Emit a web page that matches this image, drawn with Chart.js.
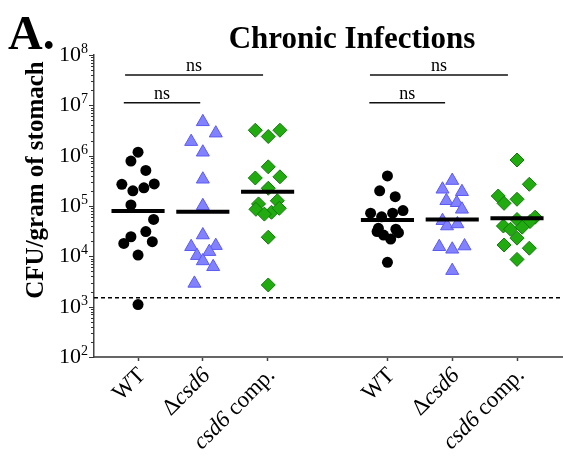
<!DOCTYPE html>
<html>
<head>
<meta charset="utf-8">
<script src="https://cdn.jsdelivr.net/npm/chart.js@4.4.0/dist/chart.umd.min.js"></script>
<style>
  html, body { margin: 0; padding: 0; background: #fff; }
  #wrap { width: 563px; height: 460px; }
</style>
</head>
<body>
<div id="wrap"><canvas id="chart" width="563" height="460"></canvas></div>
<script>
const categories = ['WT', 'Δcsd6', 'csd6 comp.', 'WT', 'Δcsd6', 'csd6 comp.'];
const positions = [1, 2, 3, 4.85, 5.85, 6.85];

const wt1Values = [1.17e6, 7.8e5, 5.1e5, 2.7e5, 2.75e5, 2.3e5, 2.0e5, 1.05e5, 5.4e4, 3.1e4, 2.45e4, 1.8e4, 1.95e4, 1.06e4, 1.1e3];
const wt1Jitter = [0, -0.11, 0.12, -0.25, 0.25, 0.09, -0.08, -0.11, 0.24, 0.12, -0.11, -0.22, 0.22, 0, 0];

const csd1Values = [4.7e6, 2.8e6, 1.9e6, 1.17e6, 3.4e5, 1.01e5, 2.65e4, 1.55e4, 1.63e4, 1.03e4, 1.24e4, 8.1e3, 6.2e3, 2.9e3];
const csd1Jitter = [0, 0.2, -0.18, 0, 0, 0, 0, -0.18, 0.2, -0.09, 0.1, 0, 0.16, -0.13];

const comp1Values = [3.2e6, 3.2e6, 2.4e6, 6.0e5, 3.6e5, 3.8e5, 2.25e5, 1.1e5, 1.27e5, 8.6e4, 7.5e4, 9.0e4, 6.9e4, 2.4e4, 2.7e3];
const comp1Jitter = [-0.19, 0.19, 0.01, 0.01, -0.19, 0.19, 0.01, -0.14, 0.15, -0.18, 0.06, 0.18, -0.05, 0.01, 0.01];

const wt2Values = [3.95e5, 2.0e5, 1.53e5, 7.2e4, 6.1e4, 7.2e4, 8.1e4, 3.6e4, 3.1e4, 2.65e4, 3.45e4, 2.95e4, 2.2e4, 7.6e3];
const wt2Jitter = [0, -0.12, 0.12, -0.26, -0.09, 0.08, 0.24, -0.14, -0.16, -0.06, 0.13, 0.17, 0.05, 0];

const csd2Values = [3.2e5, 2.15e5, 1.92e5, 1.27e5, 1.16e5, 8.6e4, 5.1e4, 4.0e4, 4.4e4, 1.55e4, 1.38e4, 1.6e4, 5.2e3];
const csd2Jitter = [0, -0.15, 0.15, -0.09, 0.07, 0.15, -0.15, -0.08, 0.08, -0.2, 0, 0.19, 0];

const comp2Values = [8.2e5, 2.7e5, 1.58e5, 1.13e5, 1.36e5, 6.0e4, 5.4e4, 4.9e4, 4.0e4, 3.45e4, 3.8e4, 2.3e4, 1.68e4, 1.45e4, 8.7e3];
const comp2Jitter = [0, 0.19, -0.29, -0.2, 0, 0.28, 0, 0.2, -0.21, -0.1, 0.08, 0, -0.2, 0.19, 0];

const medians = [8.0e4, 7.7e4, 1.92e5, 5.3e4, 5.4e4, 5.7e4];
const detectionLimit = 1500;

// [x from, x to, y value]
const sigBars = [[0.8, 2.93, 4.0e7], [0.78, 1.96, 1.13e7], [4.58, 6.71, 4.0e7], [4.57, 5.74, 1.13e7]];
const sigLabels = ['ns', 'ns', 'ns', 'ns'];

const yDecades = [2, 3, 4, 5, 6, 7, 8];

const X_MIN = 0.32, X_MAX = 7.56;
const SERIF = '"Liberation Serif", "Times New Roman", serif';

const groups = [
  { values: wt1Values, jitter: wt1Jitter },
  { values: csd1Values, jitter: csd1Jitter },
  { values: comp1Values, jitter: comp1Jitter },
  { values: wt2Values, jitter: wt2Jitter },
  { values: csd2Values, jitter: csd2Jitter },
  { values: comp2Values, jitter: comp2Jitter }
];

const styles = [
  { pointStyle: 'circle', radius: 5.5, bg: '#000000', border: '#000000', bw: 0 },
  { pointStyle: 'triangle', radius: 7.5, bg: '#8282ff', border: '#5a5af0', bw: 1 },
  { pointStyle: 'rectRot', radius: 7, bg: '#22aa11', border: '#117a0a', bw: 1 }
];

const datasets = [];

groups.forEach((g, i) => {
  const s = styles[i % 3];
  datasets.push({
    type: 'scatter',
    label: categories[i],
    data: g.values.map((v, k) => ({ x: positions[i] + g.jitter[k], y: v })),
    pointStyle: s.pointStyle,
    pointRadius: s.radius,
    pointHoverRadius: s.radius,
    backgroundColor: s.bg,
    borderColor: s.border,
    borderWidth: s.bw,
    order: 1
  });
});

medians.forEach((m, i) => {
  datasets.push({
    type: 'line',
    data: [{ x: positions[i] - 0.41, y: m }, { x: positions[i] + 0.41, y: m }],
    borderColor: '#000',
    borderWidth: 4,
    pointRadius: 0,
    order: 0
  });
});

sigBars.forEach(b => {
  datasets.push({
    type: 'line',
    data: [{ x: b[0], y: b[2] }, { x: b[1], y: b[2] }],
    borderColor: '#111',
    borderWidth: 1.5,
    pointRadius: 0,
    order: 0
  });
});

datasets.push({
  type: 'line',
  data: [{ x: X_MIN, y: detectionLimit }, { x: X_MAX, y: detectionLimit }],
  borderColor: '#000',
  borderWidth: 1.5,
  borderDash: [4, 3],
  pointRadius: 0,
  order: 2
});

const decorations = {
  id: 'decorations',
  afterDraw(chart) {
    const { ctx } = chart;
    const xs = chart.scales.x, ys = chart.scales.y;
    const left = chart.chartArea.left, bottom = chart.chartArea.bottom;
    ctx.save();
    ctx.fillStyle = '#000';

    // panel letter and title
    ctx.font = 'bold 48px ' + SERIF;
    ctx.textAlign = 'left';
    ctx.textBaseline = 'alphabetic';
    ctx.fillText('A.', 8, 49);
    ctx.font = 'bold 31px ' + SERIF;
    ctx.textAlign = 'center';
    ctx.fillText('Chronic Infections', 352, 48);

    // y axis title
    ctx.save();
    ctx.translate(43, 180);
    ctx.rotate(-Math.PI / 2);
    ctx.font = 'bold 25px ' + SERIF;
    ctx.textAlign = 'center';
    ctx.fillText('CFU/gram of stomach', 0, 0);
    ctx.restore();

    // y ticks: majors and minors
    ctx.strokeStyle = '#333';
    ctx.lineWidth = 1;
    yDecades.forEach(d => {
      for (let m = 1; m <= 9; m++) {
        if (d === 8 && m > 1) break;
        const y = Math.round(ys.getPixelForValue(m * Math.pow(10, d))) + 0.5;
        const len = m === 1 ? 5 : 3;
        ctx.beginPath();
        ctx.moveTo(left - len, y);
        ctx.lineTo(left, y);
        ctx.stroke();
      }
      const y = ys.getPixelForValue(Math.pow(10, d));
      ctx.font = '22px ' + SERIF;
      ctx.textAlign = 'right';
      ctx.fillText('10', 81, y + 6);
      ctx.font = '14px ' + SERIF;
      ctx.textAlign = 'left';
      ctx.fillText(String(d), 81, y - 2);
    });

    // x labels (rotated, mixed italic)
    positions.forEach((p, i) => {
      const x = xs.getPixelForValue(p);
      const parts = i % 3 === 0 ? [['WT', false]]
        : i % 3 === 1 ? [['Δ', false], ['csd6', true]]
        : [['csd6', true], [' comp.', false]];
      ctx.save();
      ctx.translate(x + 4, bottom + 15);
      ctx.rotate(-Math.PI / 4);
      ctx.textBaseline = 'middle';
      ctx.textAlign = 'left';
      let total = 0;
      parts.forEach(pt => {
        ctx.font = (pt[1] ? 'italic ' : '') + '23px ' + SERIF;
        total += ctx.measureText(pt[0]).width;
      });
      let cx = -total;
      parts.forEach(pt => {
        ctx.font = (pt[1] ? 'italic ' : '') + '23px ' + SERIF;
        ctx.fillText(pt[0], cx, 0);
        cx += ctx.measureText(pt[0]).width;
      });
      ctx.restore();
    });

    // significance labels
    ctx.font = '18px ' + SERIF;
    ctx.textAlign = 'center';
    ctx.textBaseline = 'alphabetic';
    sigBars.forEach((b, i) => {
      const x = xs.getPixelForValue((b[0] + b[1]) / 2);
      const y = ys.getPixelForValue(b[2]);
      ctx.fillText(sigLabels[i], x, y - 4);
    });
    ctx.restore();
  }
};

new Chart(document.getElementById('chart'), {
  type: 'scatter',
  data: { datasets },
  options: {
    responsive: false,
    animation: false,
    devicePixelRatio: 1,
    layout: { autoPadding: false, padding: { top: 55, right: 0, left: 0, bottom: 0 } },
    plugins: { legend: { display: false }, tooltip: { enabled: false }, title: { display: false } },
    scales: {
      x: {
        type: 'linear',
        min: X_MIN,
        max: X_MAX,
        afterBuildTicks: (scale) => { scale.ticks = positions.map(v => ({ value: v })); },
        afterFit: (scale) => { scale.height = 103; },
        ticks: { display: false },
        grid: { display: true, drawOnChartArea: false, drawTicks: true, tickLength: 4, tickColor: '#444', tickWidth: 1.5 },
        border: { display: true, color: '#666', width: 2 }
      },
      y: {
        type: 'logarithmic',
        min: 100,
        max: 1e8,
        afterFit: (scale) => { scale.width = 94; },
        ticks: { display: false },
        grid: { display: false },
        border: { display: true, color: '#444', width: 1.5 }
      }
    }
  },
  plugins: [decorations]
});
</script>
</body>
</html>
